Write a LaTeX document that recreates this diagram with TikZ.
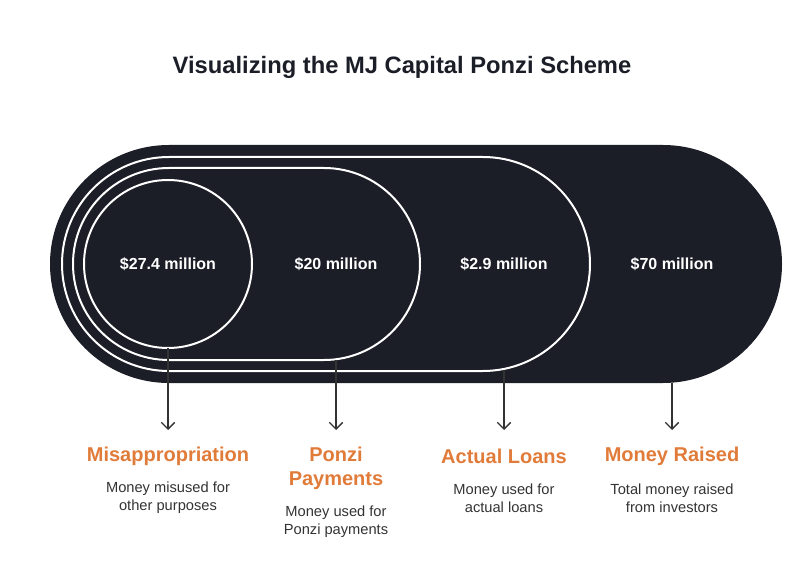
\documentclass[tikz,border=0pt]{standalone}
\usepackage{fontspec}
\setmainfont{Liberation Sans}
\usetikzlibrary{positioning,arrows.meta}
\definecolor{inkdark}{HTML}{1B1D27}
\definecolor{orangehead}{HTML}{E07B39}
\definecolor{greytext}{HTML}{333333}

\begin{document}
\begin{tikzpicture}[x=0.75pt,y=-0.75pt,
    amount/.style = {text=white, font=\bfseries\fontsize{12}{14}\selectfont},
    head/.style = {text=orangehead, font=\bfseries\fontsize{15}{18}\selectfont, align=center},
    desc/.style = {text=greytext, font=\fontsize{11}{13.5}\selectfont, align=center},
    ring/.style = {draw=white, line width=1.5pt},
    pointer/.style = {-{Straight Barb[length=5pt]}, draw=greytext, line width=1pt}]
    \useasboundingbox (0,0) rectangle (804,588);
    % Title
    \node[font=\bfseries\fontsize{17.8}{21}\selectfont, text=inkdark] (title) at (402,67) {Visualizing the MJ Capital Ponzi Scheme};
    % Nested stadiums
    \fill[inkdark, rounded corners=89.25pt] (50,145) rectangle (782,383);
    \draw[ring, rounded corners=80.25pt] (62,157) rectangle (590,371);
    \draw[ring, rounded corners=72pt] (73,168) rectangle (420,360);
    \draw[ring] (168,264) circle (84);
    % Amounts
    \node[amount] (mis) at (168,264) {\$27.4 million};
    \node[amount] (pon) at (336,264) {\$20 million};
    \node[amount] (act) at (504,264) {\$2.9 million};
    \node[amount] (rai) at (672,264) {\$70 million};
    % Bottom edges
    \coordinate (misb) at (168,348);
    \coordinate (ponb) at (336,360);
    \coordinate (actb) at (504,371);
    \coordinate (raib) at (672,383);
    % Headings
    \node[head] (mish) at (168,456) {Misappropriation};
    \node[head] (ponh) at (336,468) {Ponzi\\Payments};
    \node[head] (acth) at (504,456) {Actual Loans};
    \node[head] (raih) at (672,456) {Money Raised};
    % Descriptions
    \node[desc] (misd) at (168,498) {Money misused for\\other purposes};
    \node[desc] (pond) at (336,522) {Money used for\\Ponzi payments};
    \node[desc] (actd) at (504,498) {Money used for\\actual loans};
    \node[desc] (raid) at (672,498) {Total money raised\\from investors};
    % Arrows
    \draw[pointer] (misb) -- (mish.north |- 0,430);
    \draw[pointer] (ponb) -- (ponh.north |- 0,430);
    \draw[pointer] (actb) -- (acth.north |- 0,430);
    \draw[pointer] (raib) -- (raih.north |- 0,430);
\end{tikzpicture}
\end{document}
